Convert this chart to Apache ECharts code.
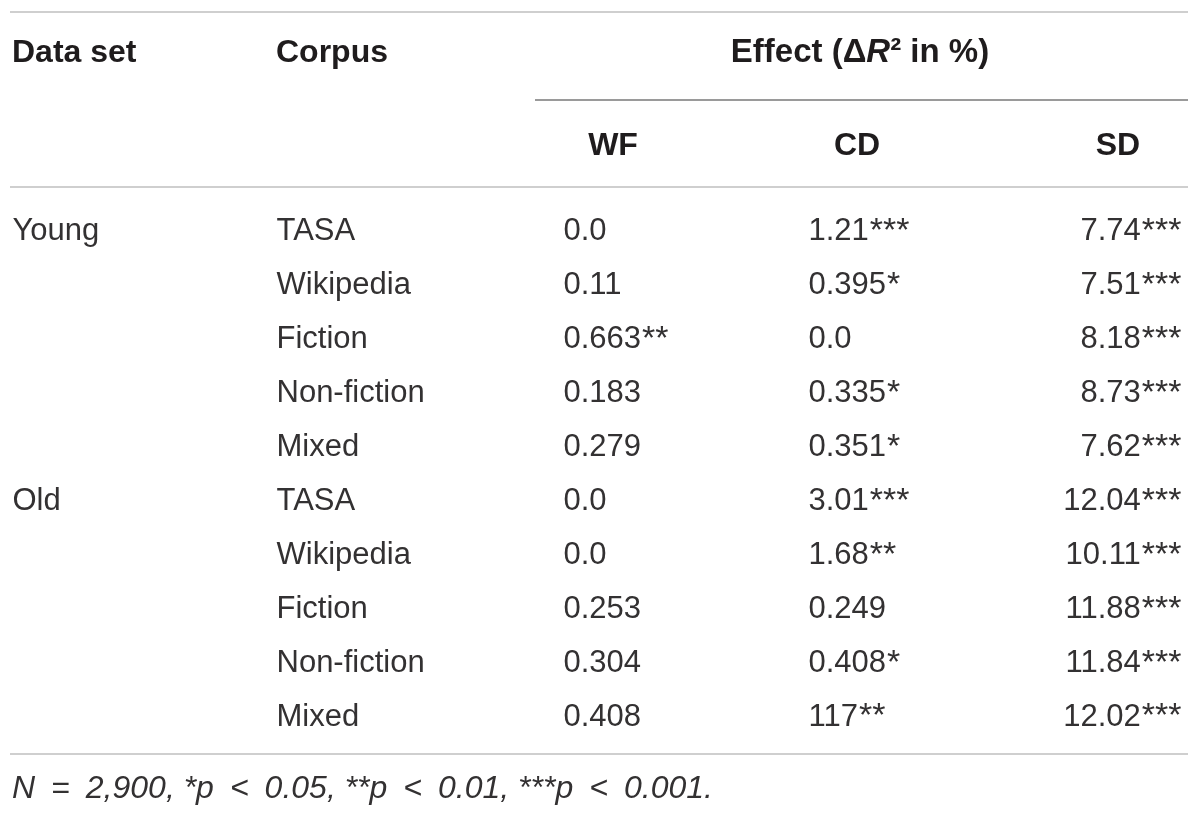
<!DOCTYPE html>
<html>
<head>
<meta charset="utf-8">
<script src="https://cdn.jsdelivr.net/npm/echarts@6/dist/echarts.min.js"></script>
<style>
  html, body { margin: 0; padding: 0; background: #fff; }
  #table { width: 1200px; height: 817px; }
</style>
</head>
<body>
<div id="table"></div>
<script>
// 表格数据
var dataSets = ['Young', 'Old'];
var corpora = ['TASA', 'Wikipedia', 'Fiction', 'Non-fiction', 'Mixed'];
var columnHeads = ['WF', 'CD', 'SD'];

var wf    = ['0.0', '0.11', '0.663', '0.183', '0.279', '0.0', '0.0', '0.253', '0.304', '0.408'];
var wfSig = ['', '', '**', '', '', '', '', '', '', ''];
var cd    = ['1.21', '0.395', '0.0', '0.335', '0.351', '3.01', '1.68', '0.249', '0.408', '117'];
var cdSig = ['***', '*', '', '*', '*', '***', '**', '', '*', '**'];
var sd    = ['7.74', '7.51', '8.18', '8.73', '7.62', '12.04', '10.11', '11.88', '11.84', '12.02'];
var sdSig = ['***', '***', '***', '***', '***', '***', '***', '***', '***', '***'];

var footnote = 'N = 2,900, *p < 0.05, **p < 0.01, ***p < 0.001.';

(function() {
	var chart = echarts.init(document.getElementById('table'));

	var FONT = '"Liberation Sans", Arial, sans-serif';
	var INK = '#1f1c1d';   // 表头
	var BODY = '#333132';  // 正文（原图为细体，颜色略浅一些）
	var RULE = '#cfcfcf';

	// 行
	var rowKeys = [];
	var dataSetCol = [];
	var corpusCol = [];
	for (var i = 0; i < dataSets.length; ++i) {
		for (var j = 0; j < corpora.length; ++j) {
			rowKeys.push(dataSets[i] + ' / ' + corpora[j]);
			dataSetCol.push(j === 0 ? dataSets[i] : '');
			corpusCol.push(corpora[j]);
		}
	}

	// 数值 + 显著性星号
	function withStars(vals, sig) {
		return vals.map(function(v, k) {
			return sig[k] ? v + '{s|' + sig[k] + '}' : v;
		});
	}

	// 列的锚点 (x) 与对齐
	var columns = [
		{ x: 12,   side: 'right', cells: dataSetCol },
		{ x: 276,  side: 'right', cells: corpusCol },
		{ x: 563,  side: 'right', cells: withStars(wf, wfSig) },
		{ x: 808,  side: 'right', cells: withStars(cd, cdSig) },
		{ x: 1182, side: 'left',  cells: withStars(sd, sdSig) }
	];

	var series = columns.map(function(col) {
		return {
			type: 'scatter',
			symbolSize: 1,
			itemStyle: { color: 'rgba(0,0,0,0)' },
			silent: true,
			data: col.cells.map(function(text, r) {
				return { value: [col.x, r], text: text };
			}),
			label: {
				show: true,
				position: col.side,
				distance: 0,
				formatter: function(p) { return p.data.text; },
				fontFamily: FONT,
				fontSize: 31,
				color: BODY,
				opacity: 1,
				rich: {
					s: { fontFamily: FONT, fontSize: 34, color: BODY, padding: [0, 0, 0, 1] }
				}
			}
		};
	});

	// 表头中心位置
	var headX = [613, 857, 1118];
	var head = [
		{ type: 'text', x: 12, y: 53, style: { text: 'Data set', font: 'bold 32px ' + FONT, fill: INK, textVerticalAlign: 'middle' } },
		{ type: 'text', x: 276, y: 53, style: { text: 'Corpus', font: 'bold 32px ' + FONT, fill: INK, textVerticalAlign: 'middle' } },
		{ type: 'text', x: 860, y: 53, style: {
			text: '{b|Effect (Δ}{bi|R}{b|² in %)}',
			textAlign: 'center', textVerticalAlign: 'middle',
			rich: {
				b: { fontFamily: FONT, fontWeight: 'bold', fontSize: 33, fill: INK },
				bi: { fontFamily: FONT, fontWeight: 'bold', fontStyle: 'italic', fontSize: 33, fill: INK }
			}
		} }
	];
	columnHeads.forEach(function(h, k) {
		head.push({ type: 'text', x: headX[k], y: 146, style: {
			text: h, font: 'bold 32px ' + FONT, fill: INK, textAlign: 'center', textVerticalAlign: 'middle'
		} });
	});

	// 横线
	function rule(x1, x2, y, color) {
		return { type: 'line', shape: { x1: x1, y1: y, x2: x2, y2: y }, style: { stroke: color, lineWidth: 2 }, silent: true };
	}
	var rules = [
		rule(10, 1188, 12, RULE),
		rule(535, 1188, 100, '#9a9a9a'),
		rule(10, 1188, 187, RULE),
		rule(10, 1188, 754, RULE)
	];

	// 脚注：运算符两侧留宽一些
	var noteText = '{i|' + footnote.replace(/ ([=<]) /g, '}{op|$1}{i|') + '}';
	var note = { type: 'text', x: 12, y: 789, style: {
		text: noteText, textVerticalAlign: 'middle',
		rich: {
			i: { fontFamily: FONT, fontStyle: 'italic', fontSize: 32, fill: BODY },
			op: { fontFamily: FONT, fontStyle: 'italic', fontSize: 32, fill: BODY, padding: [0, 16] }
		}
	} };

	var option = {
		animation: false,
		grid: { left: 0, right: 0, top: 205, height: 539 },
		xAxis: { type: 'value', min: 0, max: 1200, show: false },
		yAxis: { type: 'category', data: rowKeys, inverse: true, show: false },
		graphic: rules.concat(head).concat([note]),
		series: series
	};

	chart.setOption(option);
})();
</script>
</body>
</html>
